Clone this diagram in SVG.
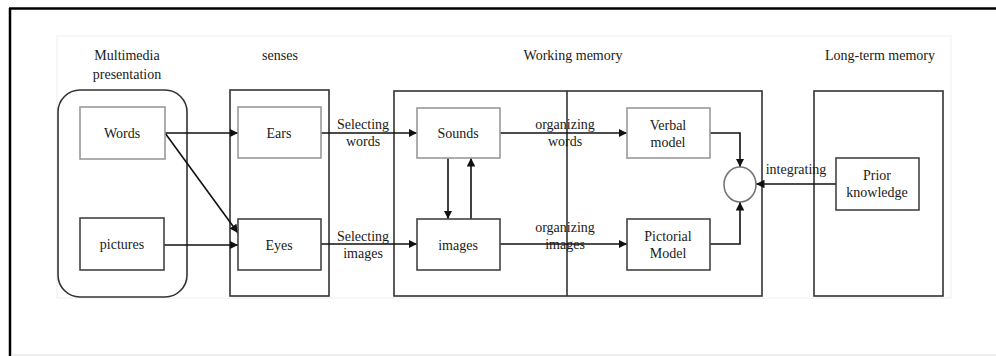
<svg xmlns="http://www.w3.org/2000/svg" width="996" height="356" viewBox="0 0 996 356">
<style>
text{font-family:"Liberation Serif","Times New Roman",serif;font-size:14px;fill:#1a1a1a;text-anchor:middle}
.box{fill:#fff;stroke:#444;stroke-width:1.6}
.lbox{fill:#fff;stroke:#999;stroke-width:1.6}
.grp{fill:none;stroke:#333;stroke-width:1.6}
.c{fill:none;stroke:#111;stroke-width:1.6;marker-end:url(#ah)}
</style>
<defs>
<marker id="ah" viewBox="0 0 10 10" refX="10" refY="5" markerWidth="8.5" markerHeight="8.5" markerUnits="userSpaceOnUse" orient="auto"><path d="M0,0L10,5L0,10z" fill="#111"/></marker>
</defs>
<rect width="996" height="356" fill="#fff"/>
<line x1="9" y1="8.5" x2="996" y2="8.5" stroke="#000" stroke-width="2.5"/>
<line x1="10" y1="8" x2="10" y2="356" stroke="#000" stroke-width="2.5"/>
<line x1="11" y1="355" x2="996" y2="355" stroke="#ddd" stroke-width="1"/>
<rect x="57" y="36" width="894" height="262" fill="#fff" stroke="#eee" stroke-width="1"/>

<g id="multimedia">
<rect class="grp" x="58" y="90" width="129" height="207" rx="22"/>
<text x="127" y="60">Multimedia</text>
<text x="127" y="79">presentation</text>
</g>
<g id="senses">
<rect class="grp" x="230" y="90" width="99" height="206"/>
<text x="280" y="60">senses</text>
</g>
<g id="working-memory">
<rect class="grp" x="394" y="91" width="368" height="205"/>
<line x1="567" y1="91" x2="567" y2="296" stroke="#333" stroke-width="1.6"/>
<text x="573" y="60">Working memory</text>
</g>
<g id="long-term-memory">
<rect class="grp" x="814" y="91" width="129" height="205"/>
<text x="880" y="60">Long-term memory</text>
</g>

<g id="connectors">
<line class="c" x1="165" y1="133" x2="238" y2="133"/>
<line class="c" x1="165" y1="133" x2="238" y2="233"/>
<line class="c" x1="164" y1="245" x2="238" y2="245"/>
<line class="c" x1="321" y1="133" x2="417" y2="133"/>
<line class="c" x1="321" y1="244" x2="417" y2="244"/>
<line class="c" x1="448" y1="158" x2="448" y2="219"/>
<line class="c" x1="471" y1="219" x2="471" y2="158"/>
<line class="c" x1="500" y1="133" x2="627" y2="133"/>
<line class="c" x1="500" y1="244" x2="627" y2="244"/>
<polyline class="c" points="710,133 740,133 740,167"/>
<polyline class="c" points="710,244 740,244 740,202"/>
<line class="c" x1="836" y1="184" x2="756" y2="184"/>
<text x="363" y="129">Selecting</text>
<text x="363" y="146">words</text>
<text x="363" y="241">Selecting</text>
<text x="363" y="258">images</text>
<text x="565" y="129">organizing</text>
<text x="565" y="146">words</text>
<text x="565" y="232">organizing</text>
<text x="565" y="249">images</text>
<text x="796" y="174">integrating</text>
</g>

<g id="words"><rect class="lbox" x="80" y="107" width="85" height="52"/><text x="122" y="138">Words</text></g>
<g id="pictures"><rect class="box" x="80" y="218" width="84" height="52"/><text x="122" y="249">pictures</text></g>
<g id="ears"><rect class="lbox" x="238" y="107" width="83" height="51"/><text x="279" y="138">Ears</text></g>
<g id="eyes"><rect class="box" x="238" y="219" width="83" height="51"/><text x="279" y="250">Eyes</text></g>
<g id="sounds"><rect class="lbox" x="417" y="108" width="83" height="50"/><text x="458" y="138">Sounds</text></g>
<g id="images"><rect class="box" x="417" y="219" width="83" height="51"/><text x="458" y="250">images</text></g>
<g id="verbal-model"><rect class="lbox" x="627" y="108" width="83" height="50"/><text x="668" y="130">Verbal</text><text x="668" y="147">model</text></g>
<g id="pictorial-model"><rect class="box" x="627" y="219" width="83" height="51"/><text x="668" y="241">Pictorial</text><text x="668" y="258">Model</text></g>
<g id="integrate"><ellipse cx="740" cy="184.5" rx="16" ry="17.5" fill="#fff" stroke="#777" stroke-width="1.6"/></g>
<g id="prior-knowledge"><rect class="box" x="836" y="158" width="83" height="52"/><text x="877" y="180">Prior</text><text x="877" y="197">knowledge</text></g>
</svg>
